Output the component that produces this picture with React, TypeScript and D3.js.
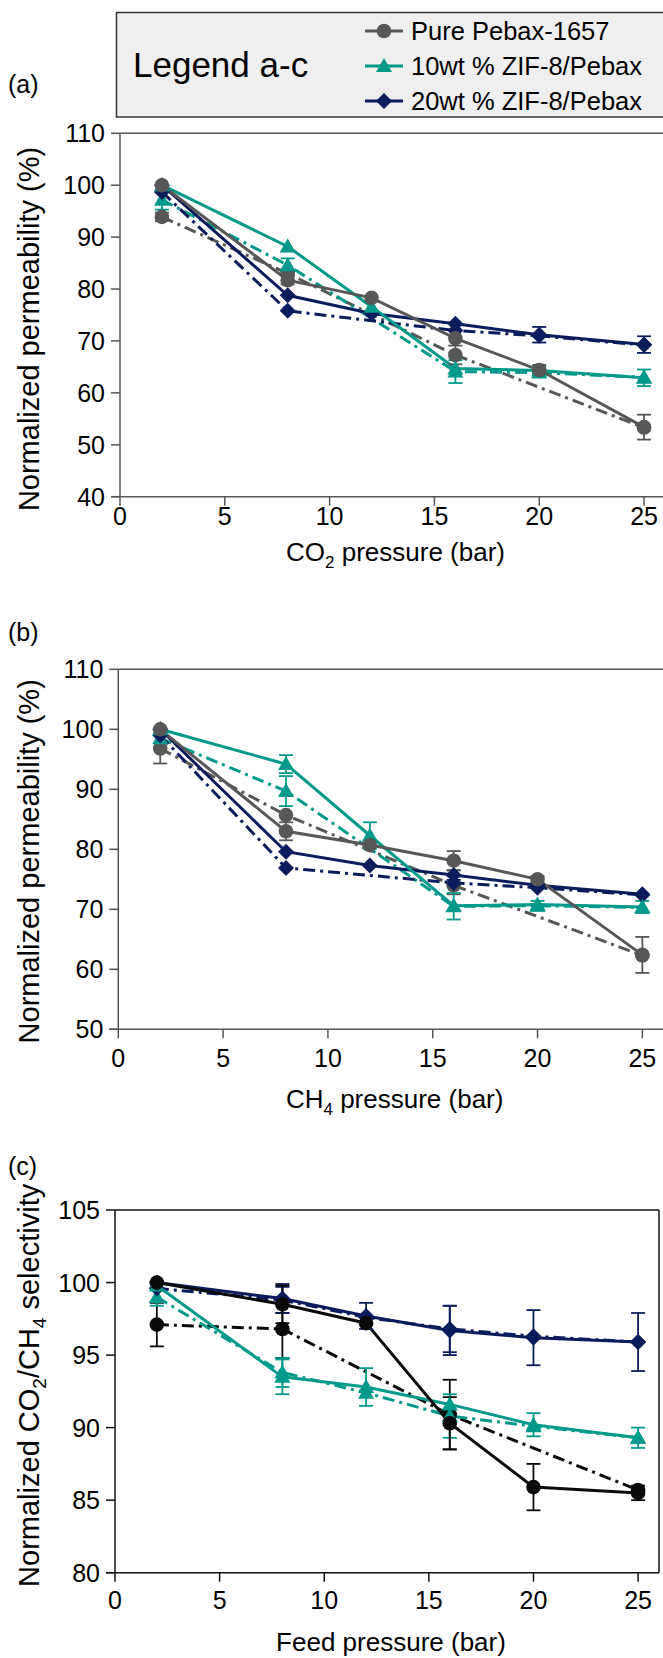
import React from "react";
import * as d3 from "d3";

const W = 663;
const H = 1658;
const FONT = "'Liberation Sans', Arial, Helvetica, sans-serif";

const pressures = [2, 8, 12, 16, 20, 25];

const GRAY = "#575757";
const TEAL = "#00998a";
const NAVY = "#0b1c5c";
const BLACK = "#0a0a0a";

// (a) CO2 permeability
const aPureSolid = [100, 81.7, 78.3, 70.5, 64.4, 53.4];
const aPureSolidErr = [0, 0.8, 0, 0, 1.0, 2.4];
const aPureDash = [93.9, 83.0, null, 67.3, null, 53.3];
const aPureDashErr = [0.8, 0, 0, 1.8, 0, 0];
const aTealSolid = [100, 88.2, 76.6, 64.7, 64.3, 62.9];
const aTealSolidErr = [0, 0, 0, 0, 0.8, 1.6];
const aTealDash = [97.2, 84.6, null, 64.1, 63.9, 63.0];
const aTealDashErr = [1.9, 1.3, 0, 2.2, 0, 0];
const aNavySolid = [100, 78.8, 75.3, 73.3, 71.2, 69.3];
const aNavySolidErr = [0, 0, 0, 0, 1.5, 1.6];
const aNavyDash = [98.7, 75.8, null, 72.0, 71.0, 69.2];
const aNavyDashErr = [0, 0, 0, 0, 0, 0];

// (b) CH4 permeability
const bPureSolid = [100, 83.0, 80.7, 78.1, 75.0, 62.4];
const bPureSolidErr = [0, 1.5, 0, 1.6, 0.5, 3.0];
const bPureDash = [96.8, 85.7, null, 74.0, null, 62.3];
const bPureDashErr = [2.5, 0, 0, 1.5, 0, 0];
const bTealSolid = [100, 94.2, 82.3, 70.6, 70.8, 70.4];
const bTealSolidErr = [0, 1.5, 2.2, 0, 0, 1.0];
const bTealDash = [98.5, 89.7, null, 70.5, 70.6, 70.3];
const bTealDashErr = [0, 2.5, 0, 2.2, 0.8, 0];
const bNavySolid = [100, 79.6, 77.3, 75.7, 74.0, 72.5];
const bNavySolidErr = [0, 0, 0, 0.8, 0, 0];
const bNavyDash = [99.0, 76.9, null, 74.4, 73.6, 72.4];
const bNavyDashErr = [0, 0, 0, 0, 0, 0];

// (c) CO2/CH4 selectivity
const cPureSolid = [100, 98.5, 97.2, 90.3, 85.9, 85.5];
const cPureSolidErr = [0, 1.3, 0, 1.8, 1.6, 0.5];
const cPureDash = [97.1, 96.8, null, 90.9, null, 85.7];
const cPureDashErr = [1.5, 2.0, 0, 2.4, 0, 0];
const cTealSolid = [99.8, 93.5, 92.8, 91.6, 90.2, 89.3];
const cTealSolidErr = [0, 1.2, 1.3, 0, 0.8, 0.7];
const cTealDash = [99.0, 93.8, 92.4, 90.8, 90.1, 89.3];
const cTealDashErr = [0.6, 1.0, 0, 1.5, 0, 0];
const cNavySolid = [100, 98.9, 97.7, 96.7, 96.2, 95.9];
const cNavySolidErr = [0, 1.0, 0.9, 1.7, 1.9, 2.0];
const cNavyDash = [99.6, 98.8, 97.6, 96.8, 96.3, 95.9];
const cNavyDashErr = [0, 0.9, 0, 1.6, 0, 0];

const xTicks = [0, 5, 10, 15, 20, 25];
const legendNames = ["Pure Pebax-1657", "10wt % ZIF-8/Pebax", "20wt % ZIF-8/Pebax"];

type Series = {
  values: (number | null)[];
  errs: number[];
  color: string;
  dashed: boolean;
  marker: "circle" | "triangle" | "diamond";
};

const mk = (values, errs, color, dashed, marker): Series => ({ values, errs, color, dashed, marker });

const Marker = ({ x, y, type, color }) => {
  if (type === "circle") return <circle cx={x} cy={y} r={7.3} fill={color} />;
  if (type === "triangle") {
    const s = 8;
    return <path d={`M${x},${y - s} L${x + s},${y + s * 0.75} L${x - s},${y + s * 0.75} Z`} fill={color} />;
  }
  const s = 8;
  return <path d={`M${x},${y - s} L${x + s},${y} L${x},${y + s} L${x - s},${y} Z`} fill={color} />;
};

const Panel = ({ xRange, yDomain, yRange, yTicks, series, label, labelY, xTitle, yTitle, yTitleShift, axisColor, rightBorder, tickBase, titleBase }) => {
  const x = d3.scaleLinear().domain([0, 26]).range(xRange);
  const y = d3.scaleLinear().domain(yDomain).range(yRange);
  const [x0, x1] = xRange;
  const yBot = yRange[0];
  const yTop = yRange[1];
  const line = d3
    .line<[number, number | null]>()
    .defined((d) => d[1] !== null)
    .x((d) => x(d[0]))
    .y((d) => y(d[1] as number));

  const pts = (s: Series) =>
    pressures.map((p, i) => [p, s.values[i]] as [number, number | null]).filter((d) => d[1] !== null);

  return (
    <g>
      <text x={8} y={labelY} fontSize={25} fontFamily={FONT}>{label}</text>
      {/* frame */}
      <line x1={x0} x2={x1} y1={yTop} y2={yTop} stroke={axisColor} strokeWidth={1.5} />
      {rightBorder && <line x1={x1} x2={x1} y1={yTop} y2={yBot} stroke={axisColor} strokeWidth={1.5} />}
      <line x1={x0} x2={x0} y1={yTop} y2={yBot} stroke={axisColor} strokeWidth={1.5} />
      <line x1={x0 - 9} x2={x1} y1={yBot} y2={yBot} stroke={axisColor} strokeWidth={1.5} />
      {yTicks.map((t) => (
        <g key={t}>
          <line x1={x0 - 9} x2={x0} y1={y(t)} y2={y(t)} stroke={axisColor} strokeWidth={1.5} />
          <text x={x0 - 15} y={y(t) + 9} textAnchor="end" fontSize={25} fontFamily={FONT}>{t}</text>
        </g>
      ))}
      {xTicks.map((t) => (
        <g key={t}>
          <line x1={x(t)} x2={x(t)} y1={yBot} y2={yBot + 9} stroke={axisColor} strokeWidth={1.5} />
          <text x={x(t)} y={tickBase} textAnchor="middle" fontSize={25} fontFamily={FONT}>{t}</text>
        </g>
      ))}
      <text x={(x0 + Math.min(x1, W)) / 2 + 4} y={titleBase} textAnchor="middle" fontSize={26} fontFamily={FONT}>
        {xTitle}
      </text>
      <text
        transform={`translate(39,${(yTop + yBot) / 2 + yTitleShift}) rotate(-90)`}
        textAnchor="middle"
        fontSize={29}
        fontFamily={FONT}
      >
        {yTitle}
      </text>
      {/* lines */}
      {series.map((s, i) => (
        <path
          key={"l" + i}
          d={line(pts(s)) || ""}
          fill="none"
          stroke={s.color}
          strokeWidth={3}
          strokeDasharray={s.dashed ? "12,5,3,5" : undefined}
        />
      ))}
      {/* error bars */}
      {series.map((s, i) =>
        pressures.map((p, j) => {
          const v = s.values[j];
          const e = s.errs[j];
          if (v === null || !e) return null;
          const cx = x(p);
          return (
            <g key={"e" + i + "-" + j} stroke={s.color} strokeWidth={1.8}>
              <line x1={cx} x2={cx} y1={y(v - e)} y2={y(v + e)} />
              <line x1={cx - 7} x2={cx + 7} y1={y(v - e)} y2={y(v - e)} />
              <line x1={cx - 7} x2={cx + 7} y1={y(v + e)} y2={y(v + e)} />
            </g>
          );
        })
      )}
      {series.map((s, i) =>
        pts(s).map((d, j) => (
          <Marker key={"m" + i + "-" + j} x={x(d[0])} y={y(d[1] as number)} type={s.marker} color={s.color} />
        ))
      )}
    </g>
  );
};

const sub = (base: string, s: string, rest: string) => (
  <>
    {base}
    <tspan fontSize={17} dy={7}>{s}</tspan>
    <tspan dy={-7}>{rest}</tspan>
  </>
);

export default function App() {
  const seriesA = [
    mk(aPureDash, aPureDashErr, GRAY, true, "circle"),
    mk(aTealDash, aTealDashErr, TEAL, true, "triangle"),
    mk(aNavyDash, aNavyDashErr, NAVY, true, "diamond"),
    mk(aNavySolid, aNavySolidErr, NAVY, false, "diamond"),
    mk(aTealSolid, aTealSolidErr, TEAL, false, "triangle"),
    mk(aPureSolid, aPureSolidErr, GRAY, false, "circle"),
  ];
  const seriesB = [
    mk(bPureDash, bPureDashErr, GRAY, true, "circle"),
    mk(bTealDash, bTealDashErr, TEAL, true, "triangle"),
    mk(bNavyDash, bNavyDashErr, NAVY, true, "diamond"),
    mk(bNavySolid, bNavySolidErr, NAVY, false, "diamond"),
    mk(bTealSolid, bTealSolidErr, TEAL, false, "triangle"),
    mk(bPureSolid, bPureSolidErr, GRAY, false, "circle"),
  ];
  const seriesC = [
    mk(cPureDash, cPureDashErr, BLACK, true, "circle"),
    mk(cTealDash, cTealDashErr, TEAL, true, "triangle"),
    mk(cNavyDash, cNavyDashErr, NAVY, true, "diamond"),
    mk(cTealSolid, cTealSolidErr, TEAL, false, "triangle"),
    mk(cNavySolid, cNavySolidErr, NAVY, false, "diamond"),
    mk(cPureSolid, cPureSolidErr, BLACK, false, "circle"),
  ];
  const legendColors = [GRAY, TEAL, NAVY];
  const legendMarkers = ["circle", "triangle", "diamond"];

  return (
    <svg width={W} height={H} style={{ position: "absolute", left: 0, top: 0, background: "#fff" }}>
      <rect x={0} y={0} width={W} height={H} fill="#fff" />
      {/* legend */}
      <rect x={116.5} y={12.5} width={W} height={104.5} fill="#efefef" stroke="#333" strokeWidth={1.5} />
      <text x={133} y={77} fontSize={35} fontFamily={FONT}>Legend a-c</text>
      {legendNames.map((n, i) => {
        const cy = 31 + i * 35;
        return (
          <g key={n}>
            <line x1={365} x2={403} y1={cy} y2={cy} stroke={legendColors[i]} strokeWidth={3} />
            <Marker x={384} y={cy} type={legendMarkers[i]} color={legendColors[i]} />
            <text x={411} y={cy + 9} fontSize={25.5} fontFamily={FONT}>{n}</text>
          </g>
        );
      })}
      <Panel
        xRange={[120, 665]}
        yDomain={[40, 110]}
        yRange={[496.7, 133.3]}
        yTicks={[40, 50, 60, 70, 80, 90, 100, 110]}
        series={seriesA}
        label="(a)"
        labelY={93}
        xTitle={sub("CO", "2", " pressure (bar)")}
        yTitle="Normalized permeability (%)"
        yTitleShift={14}
        axisColor="#555"
        rightBorder={false}
        tickBase={525}
        titleBase={561}
      />
      <Panel
        xRange={[118.3, 663.3]}
        yDomain={[50, 110]}
        yRange={[1029.3, 669.3]}
        yTicks={[50, 60, 70, 80, 90, 100, 110]}
        series={seriesB}
        label="(b)"
        labelY={641}
        xTitle={sub("CH", "4", " pressure (bar)")}
        yTitle="Normalized permeability (%)"
        yTitleShift={12}
        axisColor="#555"
        rightBorder={false}
        tickBase={1067}
        titleBase={1108}
      />
      <Panel
        xRange={[115, 659]}
        yDomain={[80, 105]}
        yRange={[1572.7, 1210]}
        yTicks={[80, 85, 90, 95, 100, 105]}
        series={seriesC}
        label="(c)"
        labelY={1175}
        xTitle="Feed pressure (bar)"
        yTitle={
          <>
            Normalized CO<tspan fontSize={19} dy={7}>2</tspan>
            <tspan dy={-7}>/CH</tspan>
            <tspan fontSize={19} dy={7}>4</tspan>
            <tspan dy={-7}> selectivity</tspan>
          </>
        }
        yTitleShift={-6}
        axisColor="#111"
        rightBorder={true}
        tickBase={1609}
        titleBase={1651}
      />
    </svg>
  );
}
